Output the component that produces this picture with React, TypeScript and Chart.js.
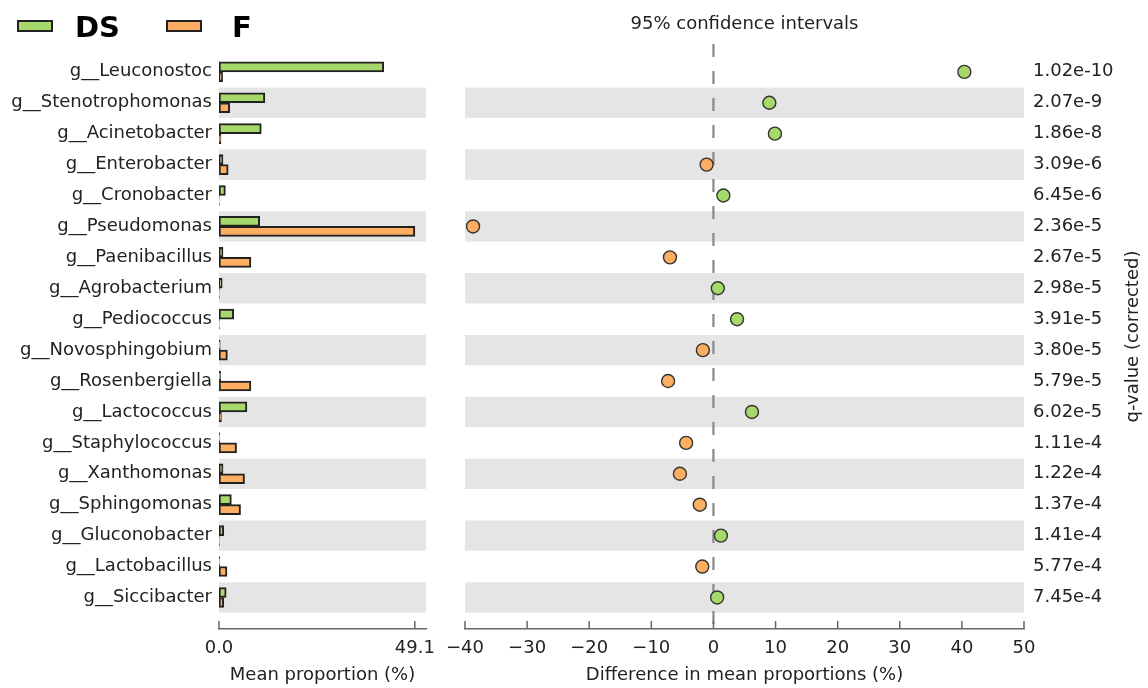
import React, { useEffect, useRef } from "react";
import { Chart, registerables } from "chart.js";

Chart.register(...registerables);

// ---------- data ----------
const categories = [
  "g__Leuconostoc",
  "g__Stenotrophomonas",
  "g__Acinetobacter",
  "g__Enterobacter",
  "g__Cronobacter",
  "g__Pseudomonas",
  "g__Paenibacillus",
  "g__Agrobacterium",
  "g__Pediococcus",
  "g__Novosphingobium",
  "g__Rosenbergiella",
  "g__Lactococcus",
  "g__Staphylococcus",
  "g__Xanthomonas",
  "g__Sphingomonas",
  "g__Gluconobacter",
  "g__Lactobacillus",
  "g__Siccibacter",
];

const groupNames = ["DS", "F"];

const dsMeans = [41.3, 11.5, 10.6, 1.0, 1.6, 10.2, 1.0, 0.8, 3.7, 0.3, 0.4, 7.0, 0.2, 1.0, 3.1, 1.2, 0.2, 1.8];
const fMeans = [0.9, 2.7, 0.5, 2.3, 0.1, 49.1, 8.0, 0.1, 0.1, 2.1, 8.0, 0.6, 4.4, 6.4, 5.4, 0.1, 2.0, 1.2];

const diffs = [40.4, 9.0, 9.9, -1.1, 1.6, -38.7, -7.0, 0.7, 3.8, -1.7, -7.3, 6.2, -4.4, -5.4, -2.2, 1.2, -1.8, 0.6];

const qValues = [
  "1.02e-10", "2.07e-9", "1.86e-8", "3.09e-6", "6.45e-6", "2.36e-5",
  "2.67e-5", "2.98e-5", "3.91e-5", "3.80e-5", "5.79e-5", "6.02e-5",
  "1.11e-4", "1.22e-4", "1.37e-4", "1.41e-4", "5.77e-4", "7.45e-4",
];

const meanTicks = [0, 49.1];
const meanAxisMax = 51.9;
const diffMin = -40;
const diffMax = 50;
const diffStep = 10;

// ---------- styles ----------
const GREEN = "#a6d96a";
const ORANGE = "#fdae61";
const FONT = "'DejaVu Sans', 'Noto Sans', sans-serif";
const TEXT = "#222";
const BAND = "#e5e5e5";
const AXIS = "#666";
const ROW_MIN = -0.9;
const ROW_MAX = 18.02;

const font18 = { family: FONT, size: 18 };

const bandPlugin = {
  id: "bands",
  beforeDatasetsDraw(chart: any) {
    const { ctx, chartArea, scales } = chart;
    const y = scales.y;
    ctx.save();
    ctx.fillStyle = BAND;
    for (let i = 1; i < categories.length; i += 2) {
      const t = y.getPixelForValue(i - 0.49);
      const b = y.getPixelForValue(i + 0.49);
      ctx.fillRect(chartArea.left, Math.min(t, b), chartArea.right - chartArea.left, Math.abs(b - t));
    }
    ctx.restore();
  },
};

const zeroLinePlugin = {
  id: "zeroLine",
  beforeDatasetsDraw(chart: any) {
    const { ctx, chartArea, scales } = chart;
    const px = scales.x.getPixelForValue(0);
    ctx.save();
    ctx.strokeStyle = "#888";
    ctx.lineWidth = 2.2;
    ctx.setLineDash([13, 14]);
    ctx.beginPath();
    ctx.moveTo(px, chartArea.top);
    ctx.lineTo(px, chartArea.bottom);
    ctx.stroke();
    ctx.restore();
  },
};

const innerTicksPlugin = {
  id: "innerTicks",
  afterDraw(chart: any) {
    const { ctx, chartArea, scales } = chart;
    const x = scales.x;
    ctx.save();
    ctx.strokeStyle = AXIS;
    ctx.lineWidth = 1.5;
    x.ticks.forEach((t: any) => {
      const px = x.getPixelForValue(t.value);
      ctx.beginPath();
      ctx.moveTo(px, chartArea.bottom);
      ctx.lineTo(px, chartArea.bottom - 8);
      ctx.stroke();
    });
    ctx.restore();
  },
};

const legendPlugin = {
  id: "customLegend",
  afterDraw(chart: any) {
    const { ctx } = chart;
    const boxX = [17, 166];
    const textX = [75, 232];
    ctx.save();
    chart.data.datasets.forEach((ds: any, i: number) => {
      ctx.fillStyle = ds.backgroundColor;
      ctx.fillRect(boxX[i], 20, 36, 12);
      ctx.strokeStyle = "#222";
      ctx.lineWidth = 2;
      ctx.strokeRect(boxX[i] + 1, 21, 34, 10);
      ctx.fillStyle = "#000";
      ctx.font = `bold 29px ${FONT}`;
      ctx.textBaseline = "alphabetic";
      ctx.textAlign = "left";
      ctx.fillText(ds.label, textX[i], 37);
    });
    ctx.restore();
  },
};

const qTitlePlugin = {
  id: "qTitle",
  afterDraw(chart: any) {
    const { ctx, chartArea } = chart;
    ctx.save();
    ctx.translate(693, (chartArea.top + chartArea.bottom) / 2);
    ctx.rotate(-Math.PI / 2);
    ctx.font = `18px ${FONT}`;
    ctx.fillStyle = TEXT;
    ctx.textAlign = "center";
    ctx.textBaseline = "middle";
    ctx.fillText("q-value (corrected)", 0, 0);
    ctx.restore();
  },
};

const noVerticalPadding = (s: any) => {
  s.paddingTop = 0;
  s.paddingBottom = 0;
};
const noHorizontalPadding = (s: any) => {
  s.paddingLeft = 0;
  s.paddingRight = 0;
};

function makeLeft(canvas: HTMLCanvasElement) {
  return new Chart(canvas, {
    type: "bar",
    data: {
      datasets: [
        {
          label: groupNames[0],
          data: dsMeans.map((v, i) => ({ x: v, y: i })),
          backgroundColor: GREEN,
          borderColor: "#222",
          borderWidth: 2,
          borderSkipped: false,
          barThickness: 10,
        },
        {
          label: groupNames[1],
          data: fMeans.map((v, i) => ({ x: v, y: i })),
          backgroundColor: ORANGE,
          borderColor: "#222",
          borderWidth: 2,
          borderSkipped: false,
          barThickness: 10,
        },
      ],
    } as any,
    options: {
      indexAxis: "y",
      responsive: false,
      animation: false,
      devicePixelRatio: 1,
      events: [],
      layout: { padding: { left: 0, right: 14, top: 44, bottom: 0 } },
      plugins: { legend: { display: false }, tooltip: { enabled: false } },
      scales: {
        x: {
          type: "linear",
          position: "bottom",
          min: 0,
          max: meanAxisMax,
          offset: false,
          grid: { display: false, drawTicks: false, offset: false },
          border: { display: true, color: AXIS, width: 1.5 },
          afterBuildTicks: (s: any) => {
            s.ticks = meanTicks.map((v) => ({ value: v }));
          },
          ticks: {
            callback: (v: any) => Number(v).toFixed(1),
            color: TEXT,
            font: font18,
            padding: 9,
            maxRotation: 0,
            autoSkip: false,
          },
          title: {
            display: true,
            text: "Mean proportion (%)",
            color: TEXT,
            font: font18,
            padding: { top: 0, bottom: 2 },
          },
          afterFit: (s: any) => {
            s.height = 59;
            noHorizontalPadding(s);
          },
        },
        y: {
          type: "linear",
          min: ROW_MIN,
          max: ROW_MAX,
          reverse: true,
          offset: false,
          grid: { display: false, drawTicks: false, offset: false },
          border: { display: false },
          afterBuildTicks: (s: any) => {
            s.ticks = categories.map((_, i) => ({ value: i }));
          },
          ticks: {
            callback: (v: any) => categories[v as number],
            color: TEXT,
            font: font18,
            padding: 7,
            autoSkip: false,
          },
          afterFit: (s: any) => {
            s.width = 219;
            noVerticalPadding(s);
          },
        },
      },
    } as any,
    plugins: [bandPlugin, innerTicksPlugin, legendPlugin],
  });
}

function makeRight(canvas: HTMLCanvasElement) {
  return new Chart(canvas, {
    type: "scatter",
    data: {
      datasets: [
        {
          label: "difference",
          data: diffs.map((d, i) => ({ x: d, y: i })),
          pointRadius: 6.5,
          pointBackgroundColor: diffs.map((d) => (d >= 0 ? GREEN : ORANGE)),
          pointBorderColor: "#333",
          pointBorderWidth: 1.4,
        },
      ],
    } as any,
    options: {
      responsive: false,
      animation: false,
      devicePixelRatio: 1,
      events: [],
      layout: { padding: { left: 25, right: 0, top: 0, bottom: 0 } },
      plugins: {
        legend: { display: false },
        tooltip: { enabled: false },
        title: {
          display: true,
          text: "95% confidence intervals",
          fullSize: false,
          color: TEXT,
          font: { family: FONT, size: 18, weight: "normal" },
          padding: { top: 13.2, bottom: 9.2 },
        },
      },
      scales: {
        x: {
          type: "linear",
          min: diffMin,
          max: diffMax,
          grid: { display: false, drawTicks: false },
          border: { display: true, color: AXIS, width: 1.5 },
          ticks: {
            stepSize: diffStep,
            callback: (v: any) => (v < 0 ? "\u2212" + Math.abs(v) : String(v)),
            color: TEXT,
            font: font18,
            padding: 9,
            maxRotation: 0,
            autoSkip: false,
          },
          title: {
            display: true,
            text: "Difference in mean proportions (%)",
            color: TEXT,
            font: font18,
            padding: { top: 0, bottom: 2 },
          },
          afterFit: (s: any) => {
            s.height = 59;
            noHorizontalPadding(s);
          },
        },
        y: {
          type: "linear",
          position: "right",
          min: ROW_MIN,
          max: ROW_MAX,
          reverse: true,
          grid: { display: false, drawTicks: false },
          border: { display: false },
          afterBuildTicks: (s: any) => {
            s.ticks = qValues.map((_, i) => ({ value: i }));
          },
          ticks: {
            callback: (v: any) => qValues[v as number],
            color: TEXT,
            font: font18,
            padding: 9,
            autoSkip: false,
          },
          afterFit: (s: any) => {
            s.width = 124;
            noVerticalPadding(s);
          },
        },
      },
    } as any,
    plugins: [bandPlugin, zeroLinePlugin, innerTicksPlugin, qTitlePlugin],
  });
}

export default function App() {
  const leftRef = useRef<HTMLCanvasElement>(null);
  const rightRef = useRef<HTMLCanvasElement>(null);

  useEffect(() => {
    const l = makeLeft(leftRef.current!);
    const r = makeRight(rightRef.current!);
    return () => {
      l.destroy();
      r.destroy();
    };
  }, []);

  return (
    <div
      style={{
        position: "absolute",
        left: 0,
        top: 0,
        width: 1148,
        height: 688,
        background: "#fff",
        overflow: "hidden",
      }}
    >
      <canvas
        ref={leftRef}
        width={440}
        height={688}
        style={{ position: "absolute", left: 0, top: 0, width: 440, height: 688 }}
      />
      <canvas
        ref={rightRef}
        width={708}
        height={688}
        style={{ position: "absolute", left: 440, top: 0, width: 708, height: 688 }}
      />
    </div>
  );
}
